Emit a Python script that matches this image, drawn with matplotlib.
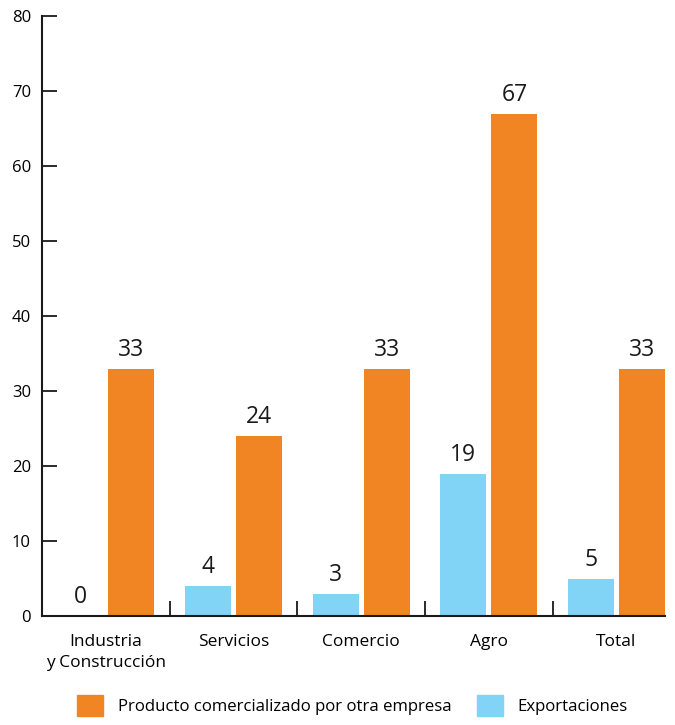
import matplotlib
matplotlib.use("Agg")
import matplotlib.pyplot as plt
from matplotlib.patches import Patch
import numpy as np

plt.rcParams['font.family'] = ['Open Sans', 'DejaVu Sans']

categories = ["Industria\ny Construcción", "Servicios", "Comercio", "Agro", "Total"]
exportaciones = [0, 4, 3, 19, 5]
producto = [33, 24, 33, 67, 33]
yticks = [0, 10, 20, 30, 40, 50, 60, 70, 80]

ORANGE = "#F28523"
BLUE = "#81D4F5"

fig = plt.figure(figsize=(6.75, 7.25), dpi=100)
ax = fig.add_axes([42/675, 109/725, (665-42)/675, 600/725])

x = np.arange(len(categories))
w = 0.36
b1 = ax.bar(x - 0.2, exportaciones, width=w, color=BLUE)
b2 = ax.bar(x + 0.2, producto, width=w, color=ORANGE)

for bars, vals in ((b1, exportaciones), (b2, producto)):
    for r, v in zip(bars, vals):
        ax.annotate(str(v), (r.get_x() + r.get_width()/2, v), xytext=(0, 5),
                    textcoords="offset points", ha="center", va="bottom",
                    fontsize=16.5, color="#1a1a1a")

ax.set_xlim(-0.5, 4.38)
ax.set_ylim(0, 80)
ax.set_yticks(yticks)
ax.set_yticklabels([str(t) for t in yticks], fontsize=12)
ax.set_xticks(x)
ax.set_xticklabels(categories, fontsize=12.5, linespacing=1.45)
ax.set_xticks(x[:-1] + 0.5, minor=True)
ax.tick_params(axis='x', which='major', length=0, pad=13)
ax.tick_params(axis='x', which='minor', direction='in', length=11, width=1.3, color='#1a1a1a')
ax.tick_params(axis='y', direction='in', length=11, width=1.3, pad=8, color='#1a1a1a')
for s in ("top", "right"):
    ax.spines[s].set_visible(False)
for s in ("left", "bottom"):
    ax.spines[s].set_linewidth(1.5)
    ax.spines[s].set_color('#1a1a1a')

handles = [Patch(color=ORANGE, label="Producto comercializado por otra empresa"),
           Patch(color=BLUE, label="Exportaciones")]
fig.legend(handles=handles, loc="lower center", bbox_to_anchor=(0.522, -0.008), ncol=2,
           frameon=False, fontsize=12.1, handlelength=1.55, handleheight=1.55,
           handletextpad=0.9, columnspacing=1.5)

fig.savefig("out.png", dpi=100)
